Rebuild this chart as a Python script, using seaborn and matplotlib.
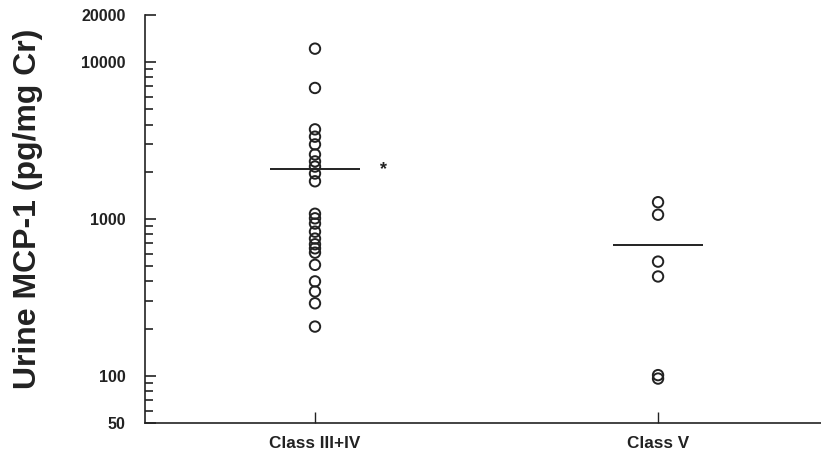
import matplotlib
matplotlib.use("Agg")
import matplotlib.pyplot as plt
import matplotlib.ticker as mticker
import seaborn as sns
import pandas as pd

# values (log axis)
classes = ["Class III+IV", "Class V"]
class34_values = [12200, 6850, 3730, 3350, 2990, 2580, 2330, 2160, 1950, 1740,
                  1080, 1010, 935, 830, 750, 690, 650, 610, 510, 400, 345, 290, 206]
class5_values = [1280, 1065, 535, 430, 101, 96]
line_values = [2080, 680]
star_label = "*"
y_ticks = [50, 100, 1000, 10000, 20000]
y_tick_labels = ["50", "100", "1000", "10000", "20000"]

df = pd.DataFrame({
    "group": [classes[0]] * len(class34_values) + [classes[1]] * len(class5_values),
    "value": class34_values + class5_values,
})

sns.set_style("ticks")
plt.rcParams["font.family"] = ["Liberation Sans", "DejaVu Sans"]
ink = "#222222"

fig = plt.figure(figsize=(8.21, 4.53), dpi=100)
ax = fig.add_axes([145 / 821, 1 - 423 / 453, 676 / 821, 408 / 453])
ax.set_yscale("log")

sns.stripplot(data=df, x="group", y="value", order=classes, jitter=False,
              size=7.5, marker="o", facecolor="none", edgecolor=ink,
              linewidth=1.4, ax=ax)
for coll in ax.collections:
    coll.set_facecolor("none")
    coll.set_edgecolor(ink)
    coll.set_linewidth(1.4)

# horizontal bars
half = 0.13
xs = range(len(classes))
ax.hlines(line_values, [i - half for i in xs], [i + half for i in xs],
          color=ink, linewidth=1.4)
ax.text(0.2, line_values[0], star_label, ha="center", va="center",
        fontsize=13, fontweight="bold", color=ink)

ax.set_xlim(-0.4955, 1.475)
ax.set_ylim(50, 20000)

ax.yaxis.set_major_locator(mticker.FixedLocator(y_ticks))
ax.yaxis.set_major_formatter(mticker.FixedFormatter(y_tick_labels))
ax.yaxis.set_minor_locator(mticker.LogLocator(base=10, subs=range(2, 10)))
ax.yaxis.set_minor_formatter(mticker.NullFormatter())

for side in ["top", "right"]:
    ax.spines[side].set_visible(False)
for side in ["left", "bottom"]:
    ax.spines[side].set_color(ink)
    ax.spines[side].set_linewidth(1.2)

ax.tick_params(axis="y", which="major", direction="in", length=8, width=1.2,
               pad=14, colors=ink, labelsize=11.5)
ax.tick_params(axis="y", which="minor", direction="in", length=6, width=1.2,
               colors=ink)
ax.tick_params(axis="x", which="major", direction="in", length=8, width=1.0,
               pad=9, colors=ink, labelsize=12.3)
for lab in ax.get_yticklabels() + ax.get_xticklabels():
    lab.set_fontweight("bold")

ax.set_xlabel("")
ax.set_ylabel("Urine MCP-1 (pg/mg Cr)", fontsize=23, fontweight="bold", color=ink)
ax.yaxis.set_label_coords(-0.151, 0.5245)

fig.savefig("out.png", dpi=100)
